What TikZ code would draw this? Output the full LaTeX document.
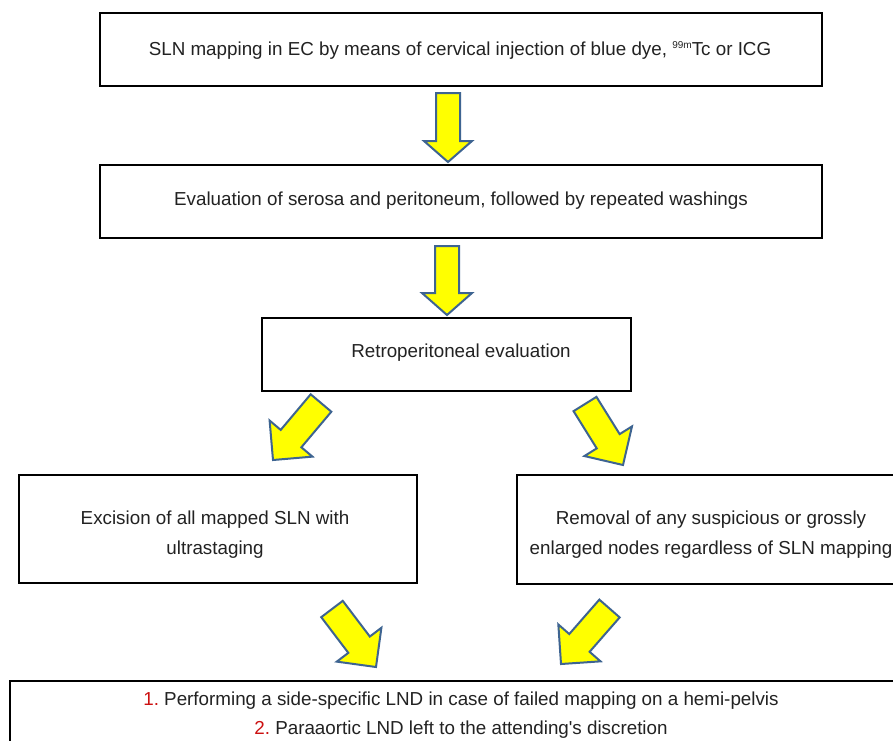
\documentclass[tikz,border=0pt]{standalone}
\usepackage{fontspec}
\setmainfont{Liberation Sans}
\usetikzlibrary{calc}
\definecolor{arrowblue}{HTML}{3E6491}
\definecolor{arrowyellow}{HTML}{FFFF00}
\definecolor{txt}{HTML}{222222}
\definecolor{numred}{HTML}{CC1111}
\tikzset{
  box/.style={draw=black, line width=2.2pt, rectangle, inner sep=0pt},
  lbl/.style={text=txt, font=\fontsize{18.8}{30}\selectfont\frenchspacing, align=center, inner sep=0pt},
  lbltight/.style={lbl, font=\fontsize{18.8}{29}\selectfont\frenchspacing},
  fatarrow/.style={draw=arrowblue, fill=arrowyellow, line width=2pt, line join=miter},
}
% #1 tail, #2 tip, #3 half shaft width, #4 half head width, #5 head length
\newcommand\fatarr[5]{%
  \coordinate (#1h) at ($(#2)!#5!(#1)$);
  \draw[fatarrow] ($(#1)!#3!90:(#2)$) -- ($(#1h)!#3!90:(#2)$) -- ($(#1h)!#4!90:(#2)$)
    -- (#2) -- ($(#1h)!#4!-90:(#2)$) -- ($(#1h)!#3!-90:(#2)$) -- ($(#1)!#3!-90:(#2)$) -- cycle;}
\begin{document}
\begin{tikzpicture}[x=1pt,y=-1pt]
\useasboundingbox (0,0) rectangle (893,740);
\clip (0,0) rectangle (893,740);
\fill[white] (0,0) rectangle (893,740);

% boxes
\node[box, minimum width=722pt, minimum height=73pt] (b1) at (461,49.5) {};
\node[box, minimum width=722pt, minimum height=73pt] (b2) at (461,201.5) {};
\node[box, minimum width=369pt, minimum height=73pt] (b3) at (446.5,354.5) {};
\node[box, minimum width=398pt, minimum height=108pt] (b4) at (218,529) {};
\node[box, minimum width=388pt, minimum height=109pt] (b5) at (711,529.5) {};
\node[box, minimum width=902pt, minimum height=99pt] (b6) at (461,730.5) {};

% texts
\node[lbl] (t1) at (460,50) {SLN mapping in EC by means of cervical injection of blue dye, {\fontsize{10}{10}\selectfont\raisebox{7pt}{99m}}Tc or ICG};
\node[lbl] (t2) at (461,201) {Evaluation of serosa and peritoneum, followed by repeated washings};
\node[lbl] (t3) at (461,353) {Retroperitoneal evaluation};
\node[lbl] (t4) at (215,535) {Excision of all mapped SLN with\\ultrastaging};
\node[lbl] (t5) at (711,535) {Removal of any suspicious or grossly\\enlarged nodes regardless of SLN mapping};
\node[lbltight] (t6) at (461,715.5) {\textcolor{numred}{1.} Performing a side-specific LND in case of failed mapping on a hemi-pelvis\\\textcolor{numred}{2.} Paraaortic LND left to the attending\textquotesingle s discretion};

% block arrows
\coordinate (a1) at (448,93);   \coordinate (a1e) at (448,162);
\coordinate (a2) at (447,246);  \coordinate (a2e) at (447,315);
\coordinate (a3) at (321,403);  \coordinate (a3e) at (273,460);
\coordinate (a4) at (585,404);  \coordinate (a4e) at (623,465);
\coordinate (a5) at (332,609);  \coordinate (a5e) at (376,667);
\coordinate (a6) at (609.5,608.5); \coordinate (a6e) at (561,664);
\fatarr{a1}{a1e}{12pt}{24pt}{21pt}
\fatarr{a2}{a2e}{12pt}{25pt}{22pt}
\fatarr{a3}{a3e}{13.5pt}{28pt}{28pt}
\fatarr{a4}{a4e}{13.5pt}{28pt}{28pt}
\fatarr{a5}{a5e}{13.5pt}{28pt}{28pt}
\fatarr{a6}{a6e}{13.5pt}{28pt}{28pt}
\end{tikzpicture}
\end{document}
